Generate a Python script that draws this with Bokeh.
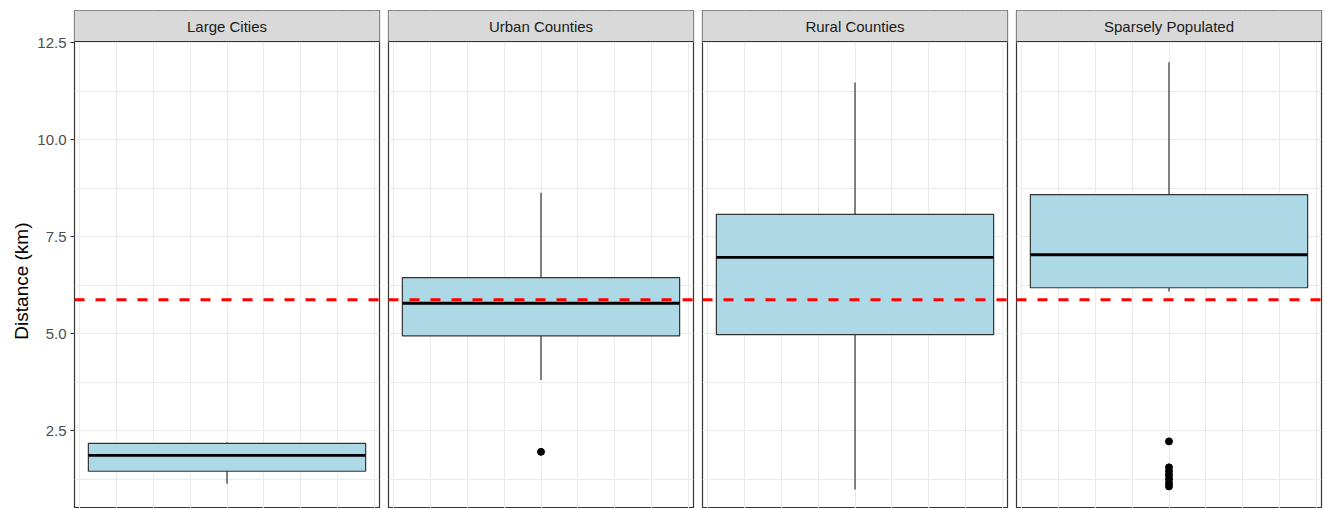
import math
from bokeh.plotting import figure
from bokeh.layouts import row
from bokeh.models import Range1d, FixedTicker, Grid, Span, Label
from bokeh.embed import file_html
from bokeh.resources import INLINE

# ---- data ----
categories = ["Large Cities", "Urban Counties", "Rural Counties", "Sparsely Populated"]
q1 = [1.45, 4.94, 4.97, 6.18]
median = [1.86, 5.78, 6.96, 7.03]
q3 = [2.17, 6.44, 8.07, 8.58]
whisker_low = [1.13, 3.80, 0.98, 6.08]
whisker_high = [2.20, 8.63, 11.47, 11.99]
outliers = [[], [1.95], [], [2.22, 1.55, 1.45, 1.35, 1.25, 1.15, 1.06]]
reference_value = 5.87
y_ticks = [2.5, 5.0, 7.5, 10.0, 12.5]
y_tick_labels = ["2.5", "5.0", "7.5", "10.0", "12.5"]
y_minor = [1.25, 3.75, 6.25, 8.75, 11.25]
x_grid = [-0.4, -0.3, -0.2, -0.1, 0.0, 0.1, 0.2, 0.3, 0.4]
y_title = "Distance (km)"

FONT = "Liberation Sans"
PANEL_TOP = 12.526
STRIP_TOP = 13.325
Y_BOTTOM = 0.49
H = 508
TW = 33  # width of the y-title column

# narrow figure holding the y-axis title (centred on the data panel)
tfig = figure(width=TW, height=H, min_border=0,
              x_range=Range1d(0, TW), y_range=Range1d(0, H),
              x_axis_location=None, y_axis_location=None,
              toolbar_location=None, output_backend="svg",
              outline_line_color=None, border_fill_color="white",
              background_fill_color="white")
tfig.center = [c for c in tfig.center if not isinstance(c, Grid)]
tfig.add_layout(Label(x=21, y=H - 276, text=y_title, angle=math.pi / 2,
                      text_align="center", text_baseline="middle",
                      text_font=FONT, text_font_size="19px",
                      text_color="#000000"))

figs = [tfig]
n = len(categories)
for i, cat in enumerate(categories):
    first = i == 0
    last = i == n - 1
    bl = (74 - TW) if first else 5
    br = 5 if last else 4
    p = figure(
        width=bl + 305 + br,
        height=H,
        frame_width=305,
        frame_height=498,
        min_border_left=bl,
        min_border_right=br,
        min_border_top=10,
        min_border_bottom=0,
        x_range=Range1d(-0.4125, 0.4125),
        y_range=Range1d(Y_BOTTOM, STRIP_TOP),
        x_axis_location=None,
        y_axis_location="left" if first else None,
        toolbar_location=None,
        output_backend="svg",
        background_fill_color="white",
        border_fill_color="white",
        outline_line_color="#333333",
        outline_line_width=1.2,
    )
    p.center = [c for c in p.center if not isinstance(c, Grid)]
    p.add_layout(Grid(dimension=0, ticker=FixedTicker(ticks=x_grid),
                      grid_line_color="#EBEBEB", grid_line_width=1), "center")
    p.add_layout(Grid(dimension=1, ticker=FixedTicker(ticks=y_ticks, minor_ticks=y_minor),
                      grid_line_color="#EBEBEB", grid_line_width=1,
                      minor_grid_line_color="#EBEBEB", minor_grid_line_width=1), "center")

    if first:
        ax = p.yaxis[0]
        ax.ticker = FixedTicker(ticks=y_ticks)
        ax.major_label_overrides = {t: s for t, s in zip(y_ticks, y_tick_labels)}
        ax.axis_line_color = None
        ax.major_tick_line_color = "#333333"
        ax.major_tick_line_width = 1
        ax.major_tick_out = 4
        ax.major_tick_in = 0
        ax.minor_tick_line_color = None
        ax.major_label_text_font = FONT
        ax.major_label_text_font_size = "15px"
        ax.major_label_text_color = "#4D4D4D"
        ax.major_label_standoff = 4

    p.segment(x0=[0], x1=[0], y0=[q3[i]], y1=[whisker_high[i]],
              line_color="#333333", line_width=1.2)
    p.segment(x0=[0], x1=[0], y0=[whisker_low[i]], y1=[q1[i]],
              line_color="#333333", line_width=1.2)
    p.vbar(x=[0], width=0.75, bottom=[q1[i]], top=[q3[i]],
           fill_color="#ADD8E6", line_color="#333333", line_width=1.2)
    p.segment(x0=[-0.375], x1=[0.375], y0=[median[i]], y1=[median[i]],
              line_color="#000000", line_width=2.8)
    if outliers[i]:
        p.scatter(x=[0] * len(outliers[i]), y=outliers[i], size=7,
                  fill_color="#000000", line_color="#000000")

    p.add_layout(Span(location=reference_value, dimension="width",
                      line_color="#FF0000", line_width=3, line_dash="10 11"))

    p.quad(left=[-1], right=[1], bottom=[PANEL_TOP], top=[STRIP_TOP + 1],
           fill_color="#D9D9D9", line_color=None)
    p.add_layout(Span(location=PANEL_TOP, dimension="width",
                      line_color="#333333", line_width=1.2))
    p.add_layout(Label(x=0, y=(PANEL_TOP + STRIP_TOP) / 2, text=cat,
                       text_align="center", text_baseline="middle",
                       text_font=FONT, text_font_size="15px",
                       text_color="#1A1A1A"))
    figs.append(p)

layout = row(*figs, spacing=0)
open("out.html", "w").write(file_html(layout, INLINE))
